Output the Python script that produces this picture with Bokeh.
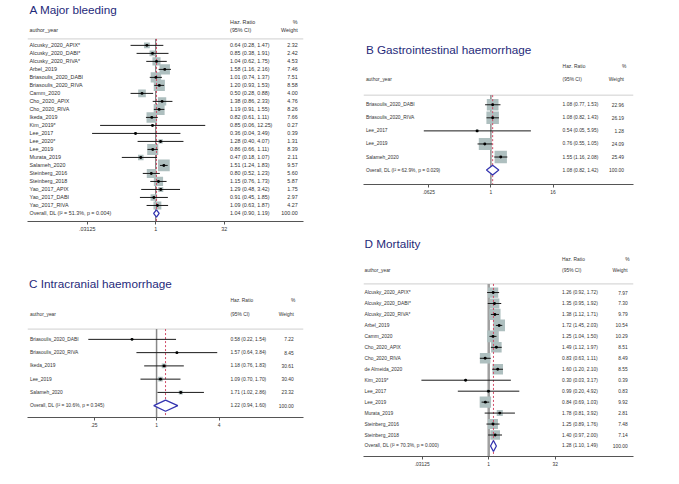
import numpy as np
from bokeh.plotting import figure
from bokeh.models import Range1d, LinearScale, FixedTicker, CustomJSTickFormatter, Spacer
from bokeh.layouts import row, column
from bokeh.core.properties import value
from bokeh.embed import file_html
from bokeh.resources import INLINE

# ---------------- A Major bleeding ----------------
a_study = ["Alcusky_2020_APIX*", "Alcusky_2020_DABI*", "Alcusky_2020_RIVA*", "Arbel_2019",
           "Briasoulis_2020_DABI", "Briasoulis_2020_RIVA", "Camm_2020", "Cho_2020_APIX",
           "Cho_2020_RIVA", "Ikeda_2019", "Kim_2019*", "Lee_2017", "Lee_2020*", "Lee_2019",
           "Murata_2019", "Salameh_2020", "Steinberg_2016", "Steinberg_2018",
           "Yao_2017_APIX", "Yao_2017_DABI", "Yao_2017_RIVA"]
a_hr = [0.64, 0.85, 1.04, 1.58, 1.01, 1.20, 0.50, 1.38, 1.19, 0.82, 0.85, 0.36, 1.28, 0.86,
        0.47, 1.51, 0.80, 1.15, 1.29, 0.91, 1.09]
a_lo = [0.28, 0.38, 0.62, 1.16, 0.74, 0.93, 0.28, 0.86, 0.91, 0.61, 0.06, 0.04, 0.40, 0.66,
        0.18, 1.24, 0.52, 0.76, 0.48, 0.45, 0.63]
a_hi = [1.47, 1.91, 1.75, 2.16, 1.37, 1.53, 0.88, 2.33, 1.55, 1.11, 12.25, 3.49, 4.07, 1.11,
        1.07, 1.83, 1.23, 1.73, 3.42, 1.85, 1.87]
a_weight = [2.32, 2.42, 4.53, 7.46, 7.51, 8.58, 4.00, 4.76, 8.26, 7.66, 0.27, 0.39, 1.31, 8.39,
            2.11, 9.57, 5.60, 5.87, 1.75, 2.97, 4.27]
a_overall = [1.04, 0.90, 1.19]
a_het = "Overall, DL (I\u00b2 = 51.3%, p = 0.004)"
a_ticks = [0.03125, 1, 32]

# ---------------- B Gastrointestinal haemorrhage ----------------
b_study = ["Briasoulis_2020_DABI", "Briasoulis_2020_RIVA", "Lee_2017", "Lee_2019", "Salameh_2020"]
b_hr = [1.08, 1.08, 0.54, 0.76, 1.55]
b_lo = [0.77, 0.82, 0.05, 0.55, 1.16]
b_hi = [1.53, 1.43, 5.95, 1.05, 2.08]
b_weight = [22.96, 26.19, 1.28, 24.09, 25.49]
b_overall = [1.08, 0.82, 1.42]
b_het = "Overall, DL (I\u00b2 = 62.9%, p = 0.029)"
b_ticks = [0.0625, 1, 16]

# ---------------- C Intracranial haemorrhage ----------------
c_study = ["Briasoulis_2020_DABI", "Briasoulis_2020_RIVA", "Ikeda_2019", "Lee_2019", "Salameh_2020"]
c_hr = [0.58, 1.57, 1.18, 1.09, 1.71]
c_lo = [0.22, 0.64, 0.76, 0.70, 1.02]
c_hi = [1.54, 3.84, 1.83, 1.70, 2.86]
c_weight = [7.22, 8.45, 30.61, 30.40, 23.32]
c_overall = [1.22, 0.94, 1.60]
c_het = "Overall, DL (I\u00b2 = 10.6%, p = 0.345)"
c_ticks = [0.25, 1, 4]

# ---------------- D Mortality ----------------
d_study = ["Alcusky_2020_APIX*", "Alcusky_2020_DABI*", "Alcusky_2020_RIVA*", "Arbel_2019",
           "Camm_2020", "Cho_2020_APIX", "Cho_2020_RIVA", "de Almeida_2020", "Kim_2019*",
           "Lee_2017", "Lee_2019", "Murata_2019", "Steinberg_2016", "Steinberg_2018"]
d_hr = [1.26, 1.35, 1.38, 1.72, 1.25, 1.49, 0.83, 1.60, 0.30, 0.99, 0.84, 1.78, 1.25, 1.40]
d_lo = [0.92, 0.95, 1.12, 1.45, 1.04, 1.12, 0.63, 1.20, 0.03, 0.20, 0.69, 0.81, 0.89, 0.97]
d_hi = [1.72, 1.92, 1.71, 2.03, 1.50, 1.97, 1.11, 2.10, 3.17, 4.92, 1.03, 3.92, 1.76, 2.00]
d_weight = [7.97, 7.30, 9.79, 10.54, 10.29, 8.51, 8.49, 8.55, 0.39, 0.83, 9.92, 2.81, 7.48, 7.14]
d_overall = [1.28, 1.10, 1.49]
d_het = "Overall, DL (I\u00b2 = 70.3%, p = 0.000)"
d_ticks = [0.03125, 1, 32]

# ---------------- styling ----------------
SX = 663 / 679
SY = 468 / 487
FONT = value("Liberation Sans")
TXT = "#333333"
TITLE_C = "#1f2a7a"
BOX_C = "#aebfbf"
DIAM_C = "#3535b0"
RED_C = "#d04a66"


def make_panel(title, study, hr, lo, hi, weight, overall, het, ticks, g):
    n = len(study)
    rows = list(range(n))
    ov = n
    fl, fr, ft, ay = g["frame_l"], g["frame_r"], g["fig_t"], g["axis_y"]
    W = round((g["fig_r"] - g["fig_l"]) * SX)
    H = round((g["fig_b"] - ft) * SY)
    p = figure(width=W, height=H, x_axis_type="log", y_axis_location=None,
               output_backend="svg", toolbar_location=None,
               x_range=Range1d(2 ** ((fl - g["one"]) / g["ppd"]), 2 ** ((fr - g["one"]) / g["ppd"])),
               y_range=Range1d((ay - g["y0"]) / g["dy"], (ft - g["y0"]) / g["dy"]),
               min_border_left=round((fl - g["fig_l"]) * SX),
               min_border_right=round((g["fig_r"] - fr) * SX),
               min_border_top=0, min_border_bottom=round((g["fig_b"] - ay) * SY))
    p.extra_x_ranges = {"px": Range1d(fl, fr)}
    p.extra_x_scales = {"px": LinearScale()}
    p.extra_y_ranges = {"py": Range1d(ay, ft)}
    p.extra_y_scales = {"py": LinearScale()}
    p.grid.visible = False
    p.outline_line_color = None
    p.background_fill_color = "white"

    fs = f"{g['fs'] * SX:.2f}px"
    common = dict(text_font=FONT, text_font_size=fs, text_color=TXT, text_baseline="middle")

    # title
    p.text(x=[g["title_x"]], y=[g["title_y"]], text=[title], x_range_name="px", y_range_name="py",
           text_font=FONT, text_font_size=f"{12 * SX:.2f}px", text_color=TITLE_C,
           text_baseline="alphabetic")
    # headers
    p.text(x=[g["label_x"]], y=[g["hdr2"]], text=["author_year"], x_range_name="px",
           y_range_name="py", **common)
    p.text(x=[g["hr_x"], g["hr_x"]], y=[g["hdr1"], g["hdr2"]], text=["Haz. Ratio", "(95% CI)"],
           x_range_name="px", y_range_name="py", **common)
    p.text(x=[g["pct_r"], g["wt_r"]], y=[g["hdr1"], g["hdr2"]], text=["%", "Weight"],
           x_range_name="px", y_range_name="py", text_align="right", **common)
    # separator
    p.segment(x0=[fl], x1=[fr], y0=[g["sep"]], y1=[g["sep"]], x_range_name="px",
              y_range_name="py", line_color="#cfcfcf", line_width=1)
    # null line at 1
    p.segment(x0=[1], x1=[1], y0=[g["sep"]], y1=[ay], y_range_name="py",
              line_color=g["null_c"], line_width=g["null_w"])

    # boxes
    sides = [g["box_k"] * SX * np.sqrt(w) for w in weight]
    p.scatter(x=hr, y=rows, marker="square", size=sides, fill_color=BOX_C, line_color=None)
    # overall dashed line
    p.segment(x0=[overall[0]], x1=[overall[0]], y0=[g["sep"]], y1=[ay], y_range_name="py",
              line_color=RED_C, line_width=1, line_dash="2 2")
    # CIs
    p.segment(x0=lo, x1=hi, y0=rows, y1=rows, line_color="#1a1a1a", line_width=1)
    p.scatter(x=hr, y=rows, marker="circle", size=3 * SX, fill_color="black", line_color=None)
    # diamond
    h = g["dh"]
    p.patch(x=[overall[1], overall[0], overall[2], overall[0]], y=[ov, ov - h, ov, ov + h],
            fill_color="white", line_color=DIAM_C, line_width=1.3)

    # text columns
    labels = list(study) + [het]
    hrtxt = [f"{a:.2f} ({b:.2f}, {c:.2f})" for a, b, c in zip(hr, lo, hi)] + \
            [f"{overall[0]:.2f} ({overall[1]:.2f}, {overall[2]:.2f})"]
    wtxt = [f"{w:.2f}" for w in weight] + ["100.00"]
    allrows = rows + [ov]
    p.text(x=[g["label_x"]] * (n + 1), y=allrows, text=labels, x_range_name="px", **common)
    p.text(x=[g["hr_x"]] * (n + 1), y=allrows, text=hrtxt, x_range_name="px", **common)
    p.text(x=[g["wt_r"]] * (n + 1), y=allrows, text=wtxt, x_range_name="px",
           text_align="right", **common)

    # axis
    ax = p.xaxis[0]
    ax.ticker = FixedTicker(ticks=ticks, minor_ticks=[])
    ax.formatter = CustomJSTickFormatter(
        code="return tick < 1 ? String(tick).replace(/^0/, '') : String(tick);")
    ax.axis_line_color = "#555555"
    ax.axis_line_width = 1
    ax.major_tick_line_color = "#555555"
    ax.major_tick_out = 3
    ax.major_tick_in = 0
    ax.minor_tick_line_color = None
    ax.major_label_standoff = 2
    ax.major_label_text_font = "Liberation Sans"
    ax.major_label_text_font_size = fs
    ax.major_label_text_color = TXT
    return p


gA = dict(fig_l=0, fig_r=340, fig_t=0, fig_b=245, frame_l=28, frame_r=310, axis_y=230,
          one=159, ppd=14, y0=46.7, dy=8.33, label_x=30, hr_x=235, wt_r=304, pct_r=304,
          title_x=30, title_y=9, hdr1=22, hdr2=30.5, sep=40, box_k=3.9, dh=0.46, fs=5.5,
          null_c="#666666", null_w=1)
gB = dict(fig_l=340, fig_r=679, fig_t=38, fig_b=205, frame_l=340, frame_r=679, axis_y=191,
          one=500, ppd=19.5, y0=108, dy=13.6, label_x=343, hr_x=590, wt_r=667, pct_r=670,
          title_x=343, title_y=50, hdr1=68, hdr2=82, sep=98, box_k=2.5, dh=0.37, fs=5,
          null_c="#555555", null_w=1)
gC = dict(fig_l=0, fig_r=340, fig_t=280, fig_b=450, frame_l=0, frame_r=340, axis_y=434,
          one=159, ppd=38.5, y0=352.7, dy=13.8, label_x=3, hr_x=250, wt_r=328, pct_r=330,
          title_x=2, title_y=295, hdr1=312, hdr2=327, sep=342, box_k=0.85, dh=0.42, fs=5,
          null_c="#888888", null_w=1.5)
gD = dict(fig_l=340, fig_r=679, fig_t=232, fig_b=487, frame_l=372, frame_r=648, axis_y=475,
          one=500, ppd=13.6, y0=304, dy=11.43, label_x=373, hr_x=575, wt_r=642, pct_r=644,
          title_x=373, title_y=253, hdr1=270, hdr2=281, sep=295, box_k=3.7, dh=0.5, fs=5,
          null_c="#a0a0a0", null_w=2.5)

pA = make_panel("A Major bleeding", a_study, a_hr, a_lo, a_hi, a_weight, a_overall, a_het, a_ticks, gA)
pB = make_panel("B Gastrointestinal haemorrhage", b_study, b_hr, b_lo, b_hi, b_weight, b_overall,
                b_het, b_ticks, gB)
pC = make_panel("C Intracranial haemorrhage", c_study, c_hr, c_lo, c_hi, c_weight, c_overall,
                c_het, c_ticks, gC)
pD = make_panel("D Mortality", d_study, d_hr, d_lo, d_hi, d_weight, d_overall, d_het, d_ticks, gD)

wl = round(340 * SX)
wr = 663 - wl
left = column(pA, Spacer(width=wl, height=round(35 * SY)), pC, spacing=0)
right = column(Spacer(width=wr, height=round(38 * SY)), pB, Spacer(width=wr, height=round(27 * SY)),
               pD, spacing=0)
layout = row(left, right, spacing=0)

open("out.html", "w").write(file_html(layout, INLINE))
